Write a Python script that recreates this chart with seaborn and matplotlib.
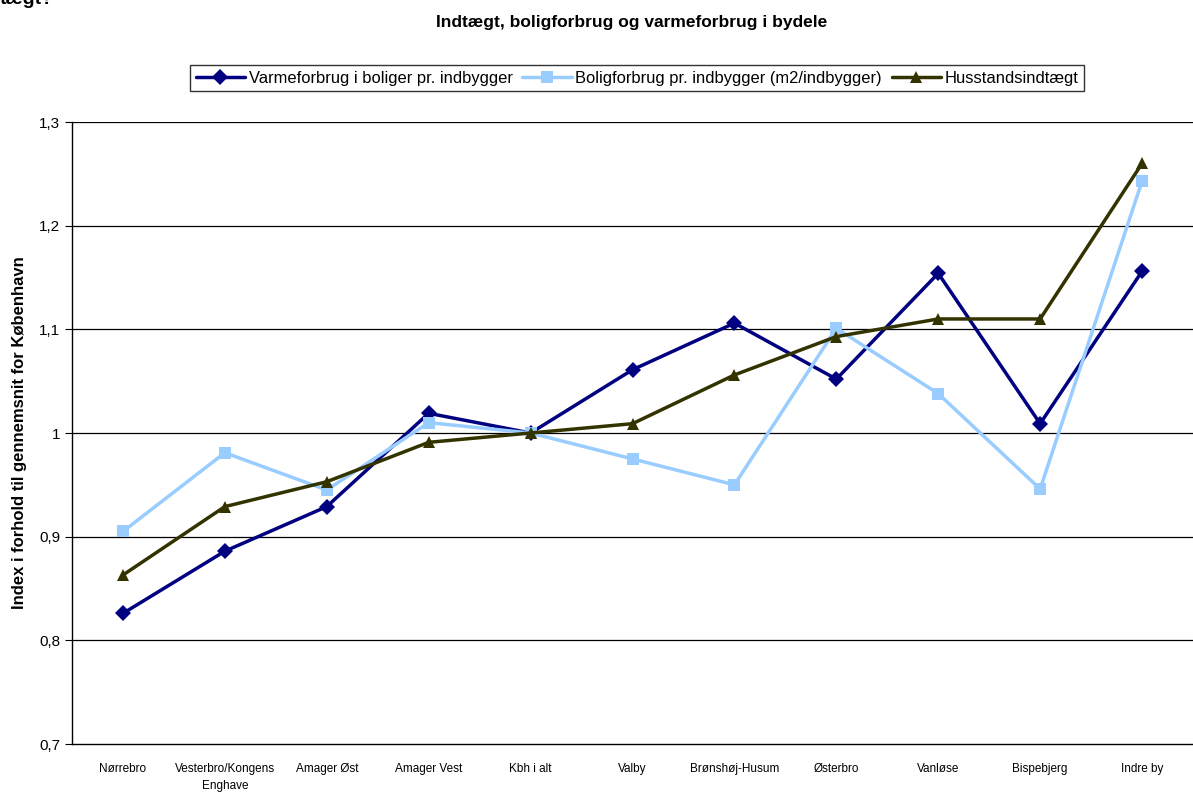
import numpy as np
import pandas as pd
import matplotlib
matplotlib.use("Agg")
import matplotlib.pyplot as plt
import seaborn as sns

bydele = ["Nørrebro", "Vesterbro/Kongens\nEnghave", "Amager Øst", "Amager Vest", "Kbh i alt",
          "Valby", "Brønshøj-Husum", "Østerbro", "Vanløse", "Bispebjerg", "Indre by"]
varme = [0.826, 0.886, 0.929, 1.019, 1.000, 1.061, 1.106, 1.052, 1.154, 1.009, 1.156]
bolig = [0.905, 0.981, 0.945, 1.010, 1.000, 0.975, 0.950, 1.101, 1.038, 0.946, 1.243]
indtaegt = [0.863, 0.929, 0.953, 0.991, 1.000, 1.009, 1.056, 1.093, 1.110, 1.110, 1.260]

navne = ["Varmeforbrug i boliger pr. indbygger",
         "Boligforbrug pr. indbygger (m2/indbygger)",
         "Husstandsindtægt"]
farver = ["#000080", "#99CCFF", "#333300"]

df = pd.DataFrame({
    "pos": list(range(len(bydele))) * 3,
    "value": varme + bolig + indtaegt,
    "serie": [n for n in navne for _ in bydele],
})

sns.set_style("white")
plt.rcParams["font.family"] = ["Liberation Sans", "DejaVu Sans"]
plt.rcParams["text.color"] = "black"
plt.rcParams["axes.labelcolor"] = "black"
plt.rcParams["xtick.color"] = "black"
plt.rcParams["ytick.color"] = "black"

fig = plt.figure(figsize=(11.93, 7.92), dpi=100)
ax = fig.add_axes([72 / 1193, 1 - 744 / 792, 1 - 72 / 1193, (744 - 122) / 792])

ax.set_ylim(0.7, 1.3)
ax.set_xlim(-0.5, len(bydele) - 0.5)
ax.set_yticks(np.arange(0.7, 1.31, 0.1))
ax.set_yticklabels(["0,7", "0,8", "0,9", "1", "1,1", "1,2", "1,3"], fontsize=11)
for y in np.arange(0.8, 1.31, 0.1):
    ax.axhline(y, color="black", lw=0.9, zorder=0)

sns.lineplot(data=df, x="pos", y="value", hue="serie", style="serie",
             palette=dict(zip(navne, farver)),
             markers=dict(zip(navne, ["D", "s", "^"])), dashes=False,
             markersize=8.5, markeredgewidth=0, linewidth=2.5, sort=False, ax=ax, legend=False)

ax.set_xticks(range(len(bydele)))
ax.set_xticklabels(bydele, fontsize=8.5, linespacing=1.5)
ax.set_xticks(np.arange(-0.5, len(bydele), 1.0), minor=True)
ax.tick_params(axis="x", which="major", length=0, pad=14)
ax.tick_params(axis="x", which="minor", length=5, width=0.8, color="black", direction="out")
ax.tick_params(axis="y", length=5, width=0.8, color="black", direction="out", left=True)

for side in ["top", "right"]:
    ax.spines[side].set_visible(False)
for side in ["left", "bottom"]:
    ax.spines[side].set_color("black")
    ax.spines[side].set_linewidth(1.0)

ax.set_xlabel("")
ax.set_ylabel("Index i forhold til gennemsnit for København", fontsize=12, fontweight="bold", labelpad=9)

handles = [plt.Line2D([], [], color=c, lw=2.5, marker=m, markersize=8.5, markeredgewidth=0)
           for c, m in zip(farver, ["D", "s", "^"])]
leg = fig.legend(handles, navne, loc="center", bbox_to_anchor=(637 / 1193, 1 - 78 / 792),
                 ncol=3, frameon=True, fancybox=False, edgecolor="black", fontsize=11.9,
                 handlelength=3.0, handletextpad=0.2, columnspacing=0.6, borderpad=0.35)
leg.get_frame().set_linewidth(1.0)

fig.text(632 / 1193, 1 - 22 / 792, "Indtægt, boligforbrug og varmeforbrug i bydele",
         ha="center", va="center", fontsize=12.5, fontweight="bold")
fig.text(0.0, 1.0, "tægt?", ha="left", va="center", fontsize=14, fontweight="bold")

fig.savefig("out.png", dpi=100)
